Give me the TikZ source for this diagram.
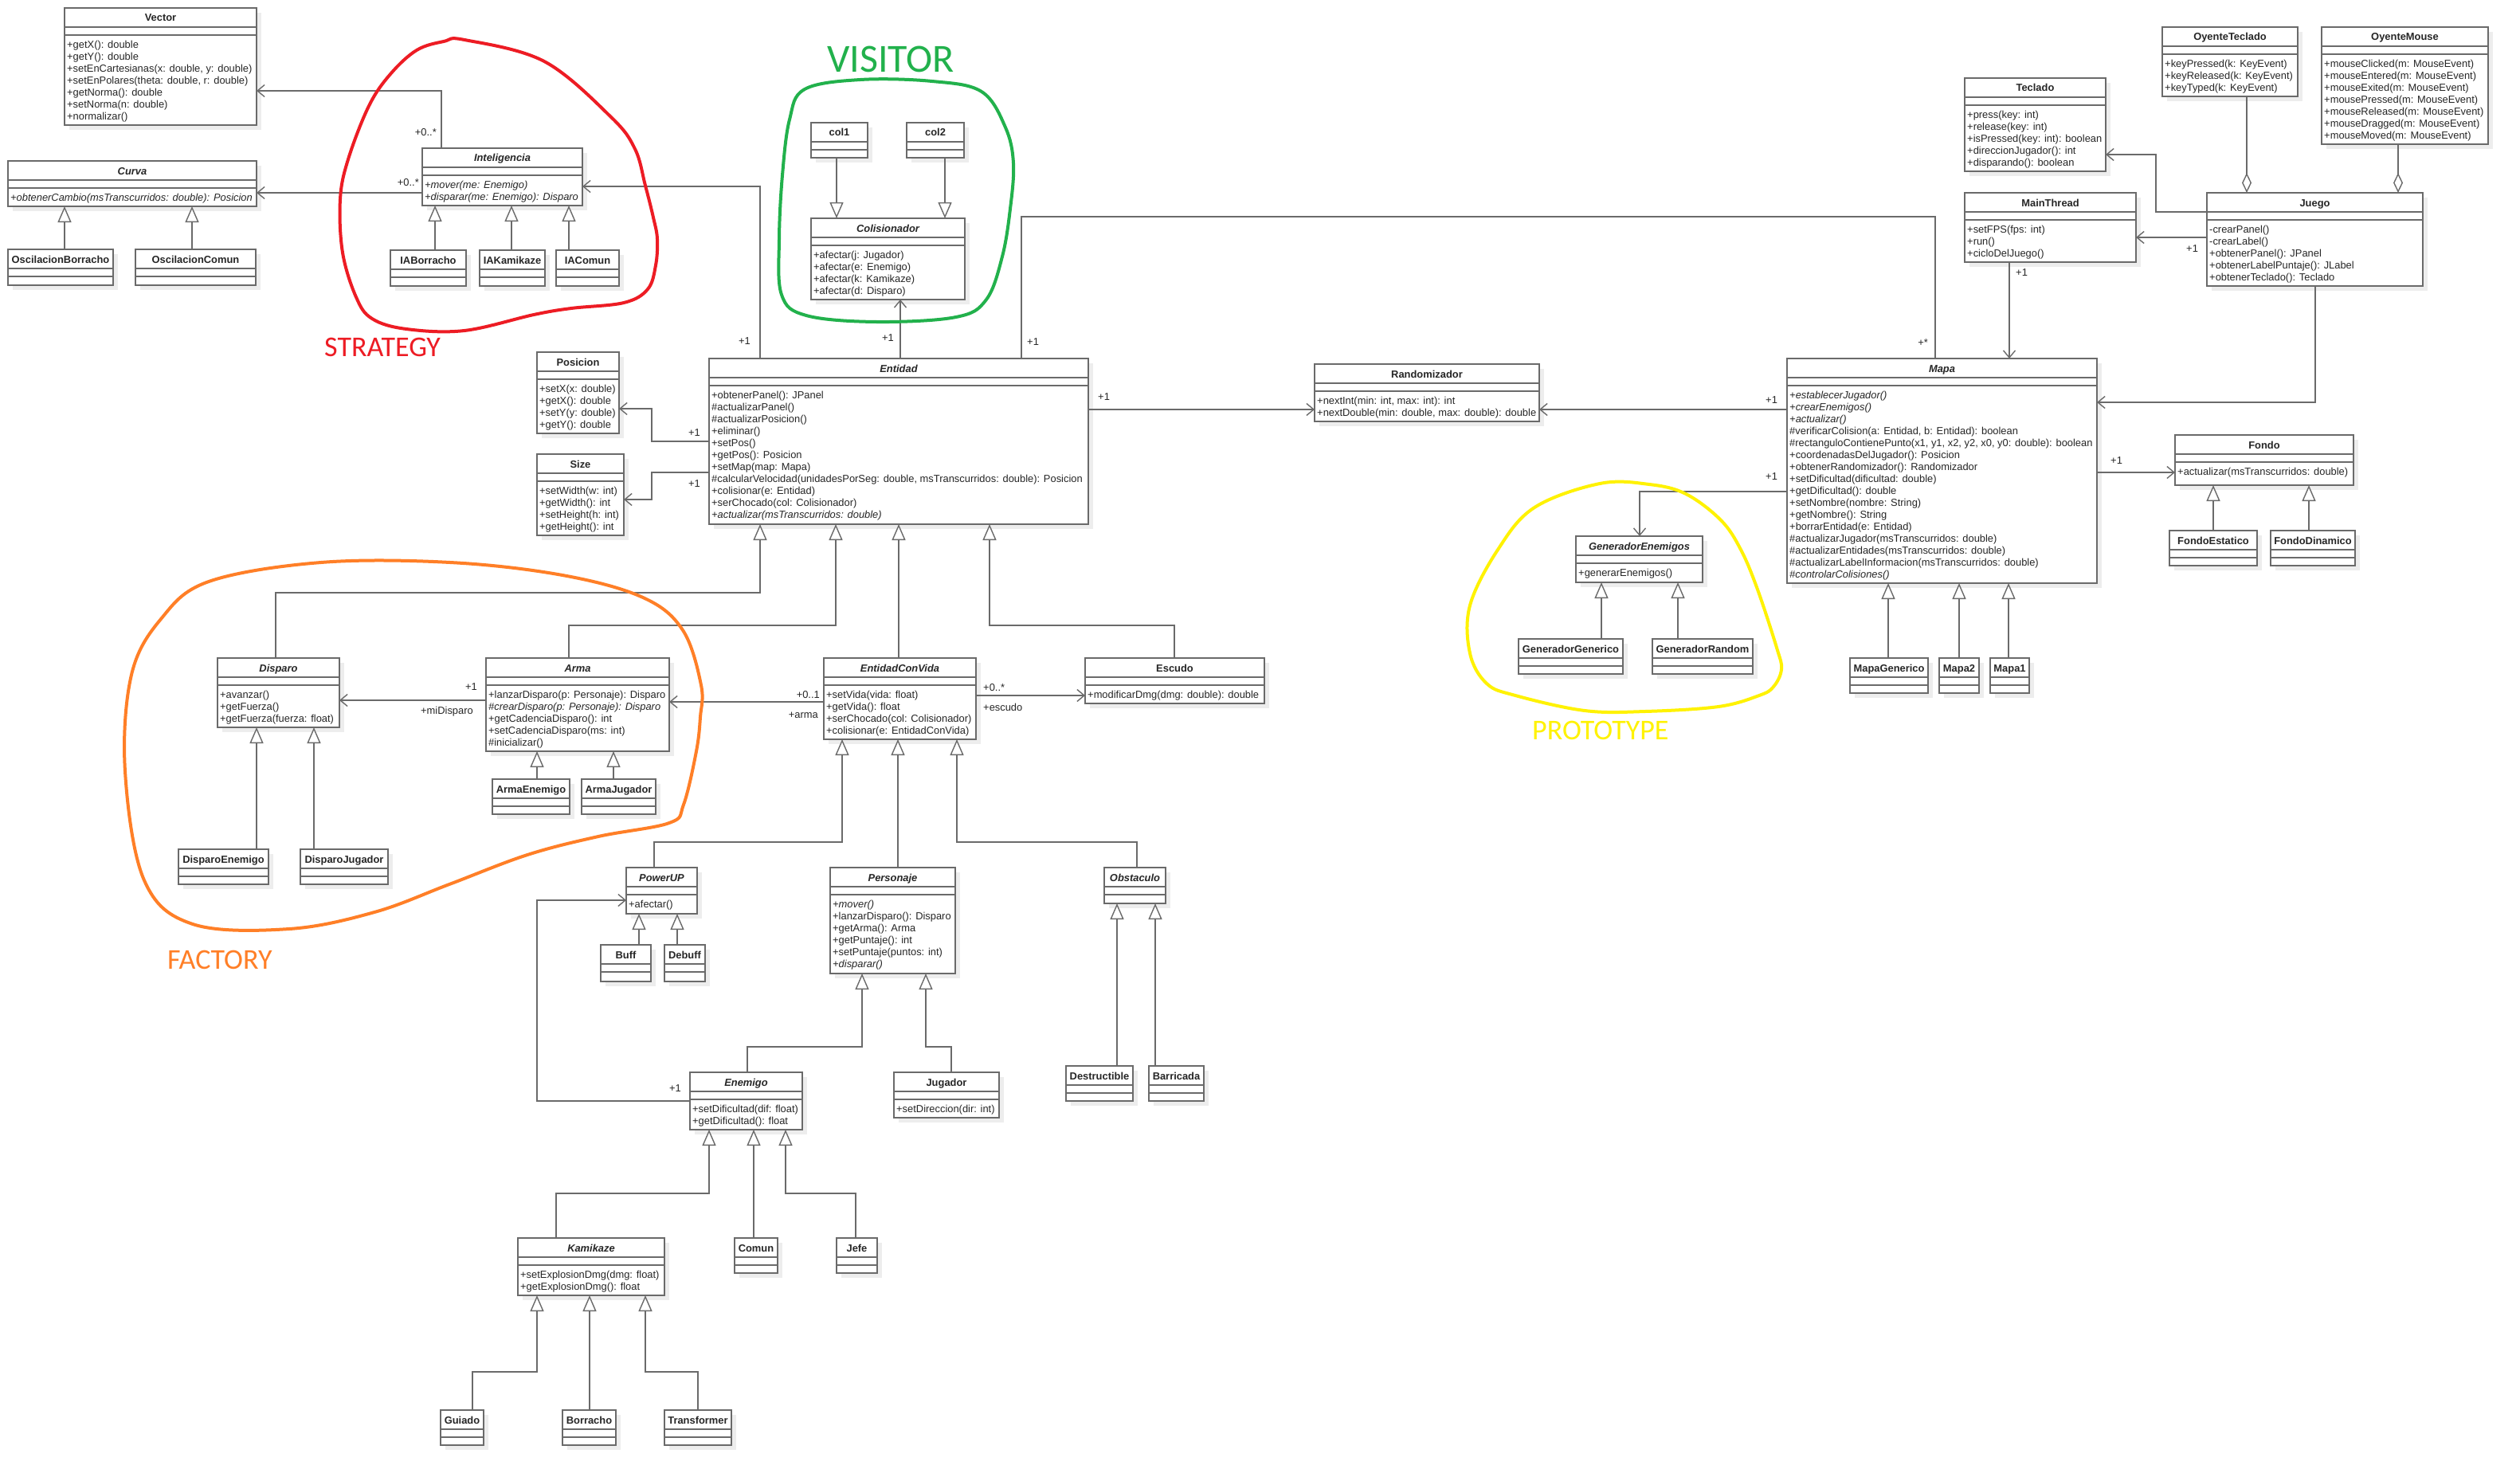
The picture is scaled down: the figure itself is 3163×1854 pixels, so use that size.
\documentclass[tikz,border=0pt]{standalone}
\usepackage{fontspec}
\setmainfont{Liberation Sans}
\newfontfamily\annfont{Carlito}
\usetikzlibrary{arrows.meta,calc}
\definecolor{ln}{HTML}{6A6A6A}
\definecolor{txt}{HTML}{262626}
\definecolor{shd}{HTML}{EDEDED}
\definecolor{pred}{HTML}{ED1C24}
\definecolor{pgreen}{HTML}{22B14C}
\definecolor{pyellow}{HTML}{FFF200}
\definecolor{porange}{HTML}{FF7F27}
\tikzset{
  classbox/.style={draw=ln,line width=1.6pt,fill=white,inner sep=0pt,outer sep=0pt},
  boxline/.style={draw=ln,line width=1.6pt},
  ttl/.style={inner sep=0pt,anchor=base,text=txt,font=\fontsize{12.9}{15}\selectfont\bfseries},
  meth/.style={inner sep=0pt,anchor=north west,align=left,text=txt,font=\fontsize{12.9}{15}\selectfont},
  lbl/.style={inner sep=0pt,text=txt,font=\fontsize{12.9}{15}\selectfont},
  assoc/.style={draw=ln,line width=1.4pt,-{Straight Barb[length=9pt,width=15pt]}},
  gen/.style={draw=ln,line width=1.4pt,-{Triangle[length=20pt,width=17pt,fill=white]}},
  agg/.style={draw=ln,line width=1.4pt,{Diamond[length=25pt,width=12pt,fill=white]}-},
  plainln/.style={draw=ln,line width=1.4pt},
  blob/.style={line width=4pt,line cap=round,line join=round},
}
% name x y w h title methods
\newcommand\umlclass[7]{%
  \fill[shd] (#2+6,#3+6) rectangle (#2+#4+6,#3+#5+6);
  \node[classbox,minimum width=#4pt,minimum height=#5pt,anchor=north west] (#1) at (#2,#3) {};
  \node[ttl] (#1t) at (#2+#4/2,#3+17) {#6};
  \draw[boxline] (#2,#3+24) -- (#2+#4,#3+24) (#2,#3+34) -- (#2+#4,#3+34);
  \node[meth] (#1m) at (#2+3,#3+39) {\rule{0pt}{11pt}#7};
}
\begin{document}
\begin{tikzpicture}[x=1pt,y=-1pt]
\useasboundingbox (0,0) rectangle (3163,1854);
\fill[white] (0,0) rectangle (3163,1854);

% ---------- classes ----------
\umlclass{vector}{81}{10}{241}{147}{Vector}{+getX(): double\\+getY(): double\\+setEnCartesianas(x: double, y: double)\\+setEnPolares(theta: double, r: double)\\+getNorma(): double\\+setNorma(n: double)\\+normalizar()}
\umlclass{curva}{10}{202}{312}{57}{\itshape Curva}{\itshape +obtenerCambio(msTranscurridos: double): Posicion}
\umlclass{oscb}{10}{313}{132}{45}{OscilacionBorracho}{}
\umlclass{oscc}{170}{313}{151}{45}{OscilacionComun}{}
\umlclass{intel}{530}{186}{201}{72}{\itshape Inteligencia}{{\itshape +mover(me: Enemigo)}\\{\itshape +disparar(me: Enemigo): Disparo}}
\umlclass{iab}{490}{314}{95}{45}{IABorracho}{}
\umlclass{iak}{602}{314}{82}{45}{IAKamikaze}{}
\umlclass{iac}{698}{314}{79}{45}{IAComun}{}
\umlclass{colA}{1018}{154}{71}{44}{col1}{}
\umlclass{colB}{1138}{154}{72}{44}{col2}{}
\umlclass{colis}{1018}{274}{193}{102}{\itshape Colisionador}{+afectar(j: Jugador)\\+afectar(e: Enemigo)\\+afectar(k: Kamikaze)\\+afectar(d: Disparo)}
\umlclass{posicion}{674}{442}{103}{102}{Posicion}{+setX(x: double)\\+getX(): double\\+setY(y: double)\\+getY(): double}
\umlclass{size}{674}{570}{109}{102}{Size}{+setWidth(w: int)\\+getWidth(): int\\+setHeight(h: int)\\+getHeight(): int}
\umlclass{entidad}{890}{450}{476}{208}{\itshape Entidad}{+obtenerPanel(): JPanel\\\#actualizarPanel()\\\#actualizarPosicion()\\+eliminar()\\+setPos()\\+getPos(): Posicion\\+setMap(map: Mapa)\\\#calcularVelocidad(unidadesPorSeg: double, msTranscurridos: double): Posicion\\+colisionar(e: Entidad)\\+serChocado(col: Colisionador)\\{\itshape +actualizar(msTranscurridos: double)}}
\umlclass{random}{1650}{457}{282}{72}{Randomizador}{+nextInt(min: int, max: int): int\\+nextDouble(min: double, max: double): double}
\umlclass{mapa}{2243}{450}{389}{282}{\itshape Mapa}{{\itshape +establecerJugador()}\\{\itshape +crearEnemigos()}\\{\itshape +actualizar()}\\\#verificarColision(a: Entidad, b: Entidad): boolean\\\#rectanguloContienePunto(x1, y1, x2, y2, x0, y0: double): boolean\\+coordenadasDelJugador(): Posicion\\+obtenerRandomizador(): Randomizador\\+setDificultad(dificultad: double)\\+getDificultad(): double\\+setNombre(nombre: String)\\+getNombre(): String\\+borrarEntidad(e: Entidad)\\\#actualizarJugador(msTranscurridos: double)\\\#actualizarEntidades(msTranscurridos: double)\\\#actualizarLabelInformacion(msTranscurridos: double)\\{\itshape \#controlarColisiones()}}
\umlclass{genen}{1978}{673}{159}{58}{\itshape GeneradorEnemigos}{+generarEnemigos()}
\umlclass{gengen}{1906}{802}{131}{44}{GeneradorGenerico}{}
\umlclass{genrand}{2074}{802}{126}{44}{GeneradorRandom}{}
\umlclass{mapagen}{2322}{826}{98}{44}{MapaGenerico}{}
\umlclass{mapaB}{2434}{826}{50}{44}{Mapa2}{}
\umlclass{mapaA}{2498}{826}{49}{44}{Mapa1}{}
\umlclass{fondo}{2730}{546}{224}{63}{Fondo}{+actualizar(msTranscurridos: double)}
\umlclass{fondoe}{2723}{666}{110}{44}{FondoEstatico}{}
\umlclass{fondod}{2850}{666}{106}{44}{FondoDinamico}{}
\umlclass{teclado}{2466}{98}{177}{117}{Teclado}{+press(key: int)\\+release(key: int)\\+isPressed(key: int): boolean\\+direccionJugador(): int\\+disparando(): boolean}
\umlclass{oyt}{2714}{34}{170}{87}{OyenteTeclado}{+keyPressed(k: KeyEvent)\\+keyReleased(k: KeyEvent)\\+keyTyped(k: KeyEvent)}
\umlclass{oym}{2914}{34}{209}{147}{OyenteMouse}{+mouseClicked(m: MouseEvent)\\+mouseEntered(m: MouseEvent)\\+mouseExited(m: MouseEvent)\\+mousePressed(m: MouseEvent)\\+mouseReleased(m: MouseEvent)\\+mouseDragged(m: MouseEvent)\\+mouseMoved(m: MouseEvent)}
\umlclass{mainth}{2466}{242}{215}{87}{MainThread}{+setFPS(fps: int)\\+run()\\+cicloDelJuego()}
\umlclass{juego}{2770}{242}{271}{117}{Juego}{-crearPanel()\\-crearLabel()\\+obtenerPanel(): JPanel\\+obtenerLabelPuntaje(): JLabel\\+obtenerTeclado(): Teclado}
\umlclass{disparo}{273}{826}{153}{87}{\itshape Disparo}{+avanzar()\\+getFuerza()\\+getFuerza(fuerza: float)}
\umlclass{arma}{610}{826}{230}{117}{\itshape Arma}{+lanzarDisparo(p: Personaje): Disparo\\{\itshape \#crearDisparo(p: Personaje): Disparo}\\+getCadenciaDisparo(): int\\+setCadenciaDisparo(ms: int)\\\#inicializar()}
\umlclass{armaen}{618}{978}{97}{44}{ArmaEnemigo}{}
\umlclass{armaju}{730}{978}{93}{44}{ArmaJugador}{}
\umlclass{dispen}{224}{1066}{113}{44}{DisparoEnemigo}{}
\umlclass{dispju}{377}{1066}{110}{44}{DisparoJugador}{}
\umlclass{ecv}{1034}{826}{191}{102}{\itshape EntidadConVida}{+setVida(vida: float)\\+getVida(): float\\+serChocado(col: Colisionador)\\+colisionar(e: EntidadConVida)}
\umlclass{escudo}{1362}{826}{225}{57}{Escudo}{+modificarDmg(dmg: double): double}
\umlclass{powerup}{786}{1089}{89}{58}{\itshape PowerUP}{+afectar()}
\umlclass{buff}{754}{1186}{63}{46}{Buff}{}
\umlclass{debuff}{834}{1186}{51}{46}{Debuff}{}
\umlclass{personaje}{1042}{1089}{157}{133}{\itshape Personaje}{{\itshape +mover()}\\+lanzarDisparo(): Disparo\\+getArma(): Arma\\+getPuntaje(): int\\+setPuntaje(puntos: int)\\{\itshape +disparar()}}
\umlclass{obst}{1386}{1089}{77}{45}{\itshape Obstaculo}{}
\umlclass{destr}{1338}{1338}{84}{44}{Destructible}{}
\umlclass{barric}{1442}{1338}{69}{44}{Barricada}{}
\umlclass{enemigo}{866}{1346}{141}{72}{\itshape Enemigo}{+setDificultad(dif: float)\\+getDificultad(): float}
\umlclass{jugador}{1122}{1346}{132}{57}{Jugador}{+setDireccion(dir: int)}
\umlclass{kamikaze}{650}{1554}{184}{72}{\itshape Kamikaze}{+setExplosionDmg(dmg: float)\\+getExplosionDmg(): float}
\umlclass{comun}{922}{1554}{54}{44}{Comun}{}
\umlclass{jefe}{1050}{1554}{51}{44}{Jefe}{}
\umlclass{guiado}{553}{1770}{54}{44}{Guiado}{}
\umlclass{borracho}{706}{1770}{67}{44}{Borracho}{}
\umlclass{transf}{834}{1770}{84}{44}{Transformer}{}

% ---------- connectors ----------
\draw[assoc] (intel.north -| 554,0) |- (vector.east |- 0,114);
\draw[assoc] (intel.west |- 0,242) -- (curva.east |- 0,242);
\draw[assoc] (entidad.north -| 954,0) |- (intel.east |- 0,234);
\draw[gen] (oscb.north -| 81,0) -- (curva.south -| 81,0);
\draw[gen] (oscc.north -| 241,0) -- (curva.south -| 241,0);
\draw[gen] (iab.north -| 546,0) -- (intel.south -| 546,0);
\draw[gen] (iak.north -| 642,0) -- (intel.south -| 642,0);
\draw[gen] (iac.north -| 714,0) -- (intel.south -| 714,0);
\draw[gen] (colA.south -| 1050,0) -- (colis.north -| 1050,0);
\draw[gen] (colB.south -| 1186,0) -- (colis.north -| 1186,0);
\draw[assoc] (entidad.north -| 1130,0) -- (colis.south -| 1130,0);
\draw[assoc] (entidad.west |- 0,554) -| (818,513) -- (posicion.east |- 0,513);
\draw[assoc] (entidad.west |- 0,593) -| (818,627) -- (size.east |- 0,627);
\draw[assoc] (entidad.east |- 0,514) -- (random.west |- 0,514);
\draw[assoc] (mapa.west |- 0,514) -- (random.east |- 0,514);
\draw[plainln] (entidad.north -| 1282,0) |- (2429,272) -- (mapa.north -| 2429,0);
\draw[assoc] (mainth.south -| 2522,0) -- (mapa.north -| 2522,0);
\draw[assoc] (juego.west |- 0,298) -- (mainth.east |- 0,298);
\draw[assoc] (juego.west |- 0,266) -| (2706,194) -- (teclado.east |- 0,194);
\draw[agg] (juego.north -| 2820,0) -- (oyt.south -| 2820,0);
\draw[agg] (juego.north -| 3010,0) -- (oym.south -| 3010,0);
\draw[assoc] (juego.south -| 2906,0) |- (mapa.east |- 0,505);
\draw[assoc] (mapa.east |- 0,593) -- (fondo.west |- 0,593);
\draw[assoc] (mapa.west |- 0,617) -| (genen.north -| 2058,0);
\draw[gen] (gengen.north -| 2010,0) -- (genen.south -| 2010,0);
\draw[gen] (genrand.north -| 2106,0) -- (genen.south -| 2106,0);
\draw[gen] (mapagen.north -| 2370,0) -- (mapa.south -| 2370,0);
\draw[gen] (mapaB.north -| 2459,0) -- (mapa.south -| 2459,0);
\draw[gen] (mapaA.north -| 2521,0) -- (mapa.south -| 2521,0);
\draw[gen] (fondoe.north -| 2778,0) -- (fondo.south -| 2778,0);
\draw[gen] (fondod.north -| 2898,0) -- (fondo.south -| 2898,0);
\draw[gen] (disparo.north -| 346,0) |- (954,744) -- (entidad.south -| 954,0);
\draw[gen] (arma.north -| 714,0) |- (1049,785) -- (entidad.south -| 1049,0);
\draw[gen] (ecv.north -| 1128,0) -- (entidad.south -| 1128,0);
\draw[gen] (escudo.north -| 1474,0) |- (1242,785) -- (entidad.south -| 1242,0);
\draw[assoc] (arma.west |- 0,879) -- (disparo.east |- 0,879);
\draw[assoc] (ecv.west |- 0,881) -- (arma.east |- 0,881);
\draw[assoc] (ecv.east |- 0,873) -- (escudo.west |- 0,873);
\draw[gen] (armaen.north -| 674,0) -- (arma.south -| 674,0);
\draw[gen] (armaju.north -| 770,0) -- (arma.south -| 770,0);
\draw[gen] (dispen.north -| 322,0) -- (disparo.south -| 322,0);
\draw[gen] (dispju.north -| 394,0) -- (disparo.south -| 394,0);
\draw[gen] (powerup.north -| 821,0) |- (1057,1057) -- (ecv.south -| 1057,0);
\draw[gen] (personaje.north -| 1127,0) -- (ecv.south -| 1127,0);
\draw[gen] (obst.north -| 1427,0) |- (1201,1057) -- (ecv.south -| 1201,0);
\draw[gen] (buff.north -| 802,0) -- (powerup.south -| 802,0);
\draw[gen] (debuff.north -| 850,0) -- (powerup.south -| 850,0);
\draw[assoc] (enemigo.west |- 0,1382) -| (674,1130) -- (powerup.west |- 0,1130);
\draw[gen] (enemigo.north -| 938,0) |- (1082,1314) -- (personaje.south -| 1082,0);
\draw[gen] (jugador.north -| 1194,0) |- (1162,1314) -- (personaje.south -| 1162,0);
\draw[gen] (destr.north -| 1402,0) -- (obst.south -| 1402,0);
\draw[gen] (barric.north -| 1450,0) -- (obst.south -| 1450,0);
\draw[gen] (kamikaze.north -| 698,0) |- (890,1498) -- (enemigo.south -| 890,0);
\draw[gen] (comun.north -| 946,0) -- (enemigo.south -| 946,0);
\draw[gen] (jefe.north -| 1074,0) |- (986,1498) -- (enemigo.south -| 986,0);
\draw[gen] (guiado.north -| 593,0) |- (674,1722) -- (kamikaze.south -| 674,0);
\draw[gen] (borracho.north -| 740,0) -- (kamikaze.south -| 740,0);
\draw[gen] (transf.north -| 876,0) |- (810,1722) -- (kamikaze.south -| 810,0);

% ---------- labels ----------
\node[lbl,anchor=base east] (l1) at (548,170.5) {+0..*};
\node[lbl,anchor=base east] (l2) at (526,233.5) {+0..*};
\node[lbl,anchor=base east] (l3) at (942,432.5) {+1};
\node[lbl,anchor=base east] (l4) at (1122,428.5) {+1};
\node[lbl,anchor=base west] (l5) at (1289,433) {+1};
\node[lbl,anchor=base east] (l6) at (2420,434) {+*};
\node[lbl,anchor=base west] (l7) at (864,547.5) {+1};
\node[lbl,anchor=base west] (l8) at (864,611.5) {+1};
\node[lbl,anchor=base west] (l9) at (1378,502.5) {+1};
\node[lbl,anchor=base west] (l10) at (2216,506.5) {+1};
\node[lbl,anchor=base west] (l11) at (2216,602.5) {+1};
\node[lbl,anchor=base west] (l12) at (2649,582.5) {+1};
\node[lbl,anchor=base west] (l13) at (2530,346.5) {+1};
\node[lbl,anchor=base west] (l14) at (2744,316.5) {+1};
\node[lbl,anchor=base west] (l15) at (584,866.5) {+1};
\node[lbl,anchor=base west] (l16) at (528,896.5) {+miDisparo};
\node[lbl,anchor=base east] (l17) at (1029,876.5) {+0..1};
\node[lbl,anchor=base east] (l18) at (1027,901.5) {+arma};
\node[lbl,anchor=base west] (l19) at (1234,867.5) {+0..*};
\node[lbl,anchor=base west] (l20) at (1234,892) {+escudo};
\node[lbl,anchor=base east] (l21) at (855,1370.5) {+1};

% ---------- pattern annotations ----------
\draw[blob,pred] plot[smooth cycle,tension=0.6] coordinates {(583,50) (683,77) (767,147) (797,187) (810,233) (820,273) (825,300) (823,333) (813,363) (783,380) (717,387) (670,395) (583,415) (510,413) (467,400) (447,373) (430,317) (427,250) (437,200) (463,133) (490,93) (523,63) (557,52)};
\node[inner sep=0pt,anchor=base west,text=pred,font=\annfont\fontsize{36}{40}\selectfont] (tstrat) at (407,447) {STRATEGY};

\draw[blob,pgreen] plot[smooth cycle,tension=0.6] coordinates {(1010,112) (1080,100) (1170,102) (1232,115) (1262,160) (1272,205) (1268,262) (1258,322) (1238,376) (1200,398) (1100,404) (1012,396) (981,370) (978,300) (982,220) (991,150)};
\node[inner sep=0pt,anchor=base west,text=pgreen,font=\annfont\fontsize{50}{54}\selectfont] (tvis) at (1038,91) {VISITOR};

\draw[blob,porange] plot[smooth cycle,tension=0.6] coordinates {(403,706) (565,706) (706,722) (807,750) (857,791) (880,860) (879,900) (874,943) (858,1010) (840,1033) (751,1050) (662,1073) (564,1110) (470,1145) (363,1166) (242,1160) (181,1105) (157,968) (165,847) (202,777) (262,730)};
\node[inner sep=0pt,anchor=base west,text=porange,font=\annfont\fontsize{36}{40}\selectfont] (tfact) at (210,1216) {FACTORY};

\draw[blob,pyellow] plot[smooth cycle,tension=0.6] coordinates {(1880,690) (1926,637) (2008,607) (2070,608) (2116,620) (2160,653) (2185,690) (2206,740) (2230,813) (2236,840) (2226,862) (2208,873) (2157,887) (2065,893) (1989,892) (1902,873) (1866,858) (1845,820) (1845,760)};
\node[inner sep=0pt,anchor=base west,text=pyellow,font=\annfont\fontsize{36}{40}\selectfont] (tproto) at (1923,928) {PROTOTYPE};
\end{tikzpicture}
\end{document}
